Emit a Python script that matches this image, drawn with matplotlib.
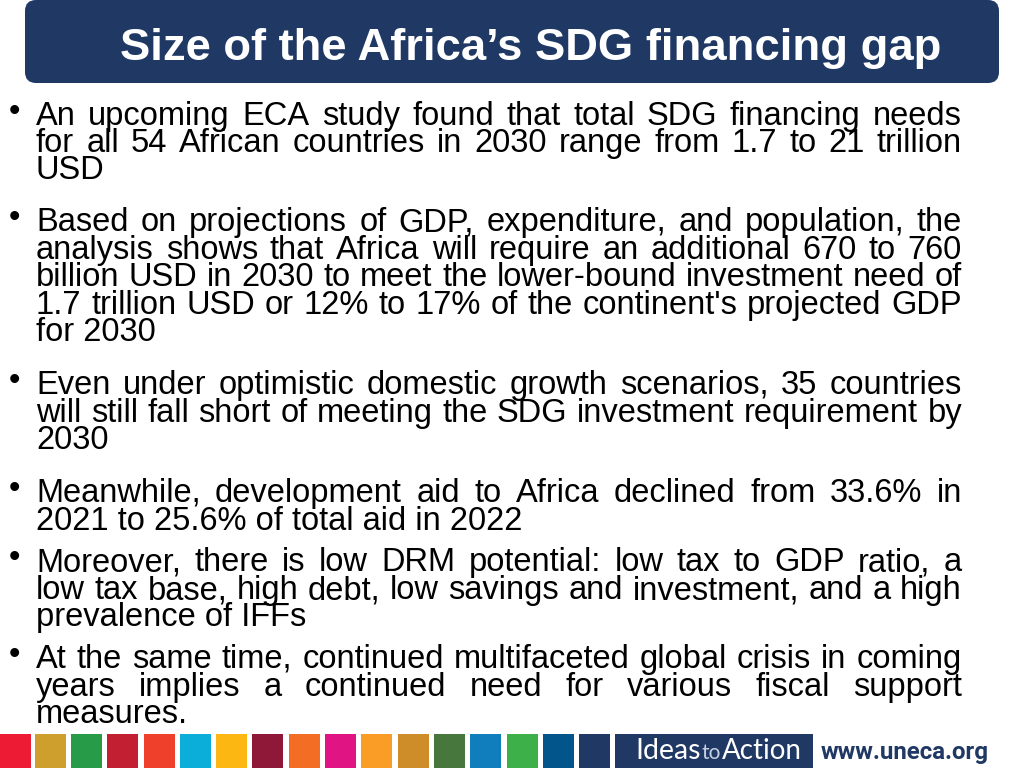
"""Slide: Size of the Africa's SDG financing gap"""
import matplotlib.pyplot as plt
from matplotlib.patches import FancyBboxPatch, Rectangle

TITLE = 'Size of the Africa’s SDG financing gap'

# (text, baseline y in px, justified?)
body_lines = [
    ('An upcoming ECA study found that total SDG financing needs', 125, True),
    ('for all 54 African countries in 2030 range from 1.7 to 21 trillion', 152, True),
    ('USD', 179, False),
    ('Based on projections of GDP, expenditure, and population, the', 231, True),
    ('analysis shows that Africa will require an additional 670 to 760', 259, True),
    ('billion USD in 2030 to meet the lower-bound investment need of', 286, True),
    ('1.7 trillion USD or 12% to 17% of the continent\'s projected GDP', 314, True),
    ('for 2030', 341, False),
    ('Even under optimistic domestic growth scenarios, 35 countries', 394, True),
    ('will still fall short of meeting the SDG investment requirement by', 422, True),
    ('2030', 449, False),
    ('Meanwhile, development aid to Africa declined from 33.6% in', 502, True),
    ('2021 to 25.6% of total aid in 2022', 530, False),
    ('Moreover, there is low DRM potential: low tax to GDP ratio, a', 571, True),
    ('low tax base, high debt, low savings and investment, and a high', 599, True),
    ('prevalence of IFFs', 626, False),
    ('At the same time, continued multifaceted global crisis in coming', 668, True),
    ('years implies a continued need for various fiscal support', 696, True),
    ('measures.', 723, False),
]
bullet_y = [125, 231, 394, 502, 571, 668]

square_left = [0, 35, 71, 107, 144, 180, 216, 252, 289, 325, 361, 398, 434, 470, 507, 543, 579]
square_colors = ['#ed1c34', '#cf9f2d', '#279b48', '#c31f33', '#ef402b', '#0aaed9', '#fdb713',
                 '#8f1838', '#f36d25', '#e11484', '#f99d26', '#cf8d2a', '#48773e', '#107dbd',
                 '#3eb049', '#02558b', '#1f3864']
NAVY = '#1f3864'

plt.rcParams['font.family'] = ['Liberation Sans', 'DejaVu Sans']

fig = plt.figure(figsize=(10.24, 7.68), dpi=100)
ax = fig.add_axes([0, 0, 1, 1])
ax.set_xlim(0, 1024)
ax.set_ylim(768, 0)
ax.axis('off')

# title banner
ax.add_patch(FancyBboxPatch((25, 0), 974, 83, boxstyle='round,pad=0,rounding_size=11',
                            fc=NAVY, ec='none'))
ax.text(120, 60, TITLE, color='white', fontsize=32.7, fontweight='bold', va='baseline')

renderer = fig.canvas.get_renderer()
FS = 23.5
LEFT, RIGHT = 36, 962


def text_width(s):
    t = ax.text(0, 0, s, fontsize=FS)
    w = t.get_window_extent(renderer).width
    t.remove()
    return w


for line, y, justified in body_lines:
    if not justified:
        ax.text(LEFT, y, line, fontsize=FS, color='black', va='baseline')
        continue
    # spread the words so the line reaches the right margin
    words = line.split(' ')
    widths = [text_width(w) for w in words]
    gap = (RIGHT - LEFT - sum(widths)) / (len(words) - 1)
    x = LEFT
    for w, width in zip(words, widths):
        ax.text(x, y, w, fontsize=FS, color='black', va='baseline')
        x += width + gap

for y in bullet_y:
    ax.text(9, y - 4, '•', fontsize=FS, color='black', va='baseline')

# footer
for x, c in zip(square_left, square_colors):
    ax.add_patch(Rectangle((x, 734), 30.5, 34, fc=c, ec='none'))
ax.add_patch(Rectangle((615, 734), 198, 34, fc=NAVY, ec='none'))
ax.text(635, 759, 'Ideas', color='white', fontsize=20.5, va='baseline', family='Lato')
ax.text(702, 759, 'to', color='#c5d0e0', fontsize=15, va='baseline', family='Lato')
ax.text(722, 759, 'Action', color='white', fontsize=20, va='baseline', family='Lato')
ax.text(821, 759, 'www.uneca.org', color=NAVY, fontsize=17.3, fontweight='bold', va='baseline',
        family='Roboto')

fig.savefig('out.png', dpi=100)
